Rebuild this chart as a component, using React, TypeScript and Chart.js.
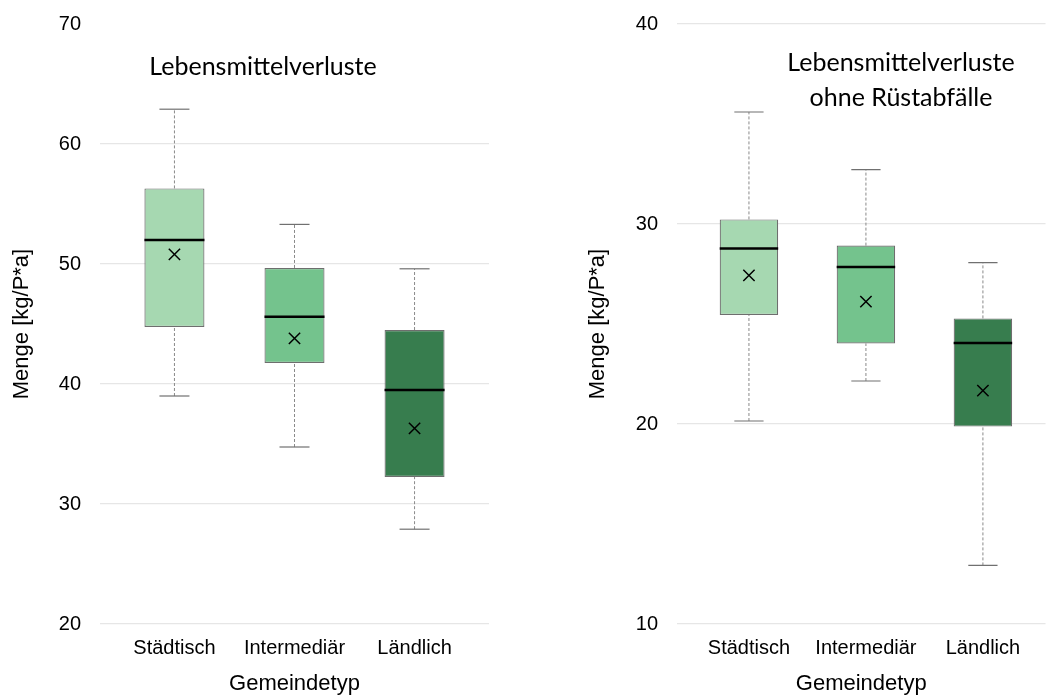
import React, { useEffect, useRef } from "react";
import { Chart, registerables } from "chart.js";
Chart.register(...registerables);

const categories = ["Städtisch", "Intermediär", "Ländlich"];
const boxColors = ["#a6d8b1", "#74c38d", "#377d4e"];

// Panel 1: Lebensmittelverluste
const p1Min = [39.0, 34.75, 27.9];
const p1Q1 = [44.75, 41.75, 32.25];
const p1Median = [52.0, 45.6, 39.5];
const p1Q3 = [56.3, 49.67, 44.5];
const p1Max = [62.9, 53.3, 49.6];
const p1Mean = [50.8, 43.8, 36.3];

// Panel 2: Lebensmittelverluste ohne Rüstabfälle
const p2Min = [20.15, 22.15, 12.93];
const p2Q1 = [25.45, 24.03, 19.87];
const p2Median = [28.78, 27.85, 24.05];
const p2Q3 = [30.23, 28.92, 25.28];
const p2Max = [35.6, 32.72, 28.07];
const p2Mean = [27.43, 26.12, 21.67];

const yTitle = "Menge [kg/P*a]";
const xTitle = "Gemeindetyp";
const p1Title = ["Lebensmittelverluste"];
const p2Title = ["Lebensmittelverluste", "ohne Rüstabfälle"];

const FONT = "'Liberation Sans', Arial, sans-serif";

type Panel = {
  min: number[]; q1: number[]; med: number[]; q3: number[]; max: number[]; mean: number[];
  yMin: number; yMax: number; hideTop: boolean;
  xMin: number; xMax: number;
  yAxisWidth: number; yTitlePad: number; padRight: number;
};

function buildConfig(p: Panel): any {
  const datasets: any[] = [];
  datasets.push({
    type: "bar",
    data: categories.map((_, i) => ({ x: i, y: [p.q1[i], p.q3[i]] })),
    backgroundColor: boxColors,
    borderColor: "#6e6e6e",
    borderWidth: 1.2,
    borderSkipped: false,
    barPercentage: 0.5,
    categoryPercentage: 1,
    order: 3,
  });
  categories.forEach((_, i) => {
    const whisker = {
      type: "line",
      borderColor: "#8a8a8a",
      borderWidth: 1,
      borderDash: [3, 2],
      pointRadius: 0,
      order: 5,
    };
    datasets.push({ ...whisker, data: [{ x: i, y: p.q3[i] }, { x: i, y: p.max[i] }] });
    datasets.push({ ...whisker, data: [{ x: i, y: p.min[i] }, { x: i, y: p.q1[i] }] });
    const cap = { type: "line", borderColor: "#707070", borderWidth: 1.2, pointRadius: 0, order: 4 };
    datasets.push({ ...cap, data: [{ x: i - 0.125, y: p.max[i] }, { x: i + 0.125, y: p.max[i] }] });
    datasets.push({ ...cap, data: [{ x: i - 0.125, y: p.min[i] }, { x: i + 0.125, y: p.min[i] }] });
    datasets.push({
      type: "line",
      borderColor: "#000000",
      borderWidth: 2.5,
      pointRadius: 0,
      order: 1,
      data: [{ x: i - 0.25, y: p.med[i] }, { x: i + 0.25, y: p.med[i] }],
    });
  });
  datasets.push({
    type: "scatter",
    data: p.mean.map((m, i) => ({ x: i, y: m })),
    pointStyle: "crossRot",
    pointRadius: 8,
    borderColor: "#000000",
    backgroundColor: "#000000",
    borderWidth: 1.5,
    order: 0,
  });

  return {
    type: "bar",
    data: { datasets },
    options: {
      animation: false,
      responsive: false,
      maintainAspectRatio: false,
      events: [],
      layout: { padding: { top: 24, right: p.padRight, left: 0, bottom: 0 } },
      plugins: { legend: { display: false }, tooltip: { enabled: false }, title: { display: false } },
      scales: {
        x: {
          type: "linear",
          min: p.xMin,
          max: p.xMax,
          offset: false,
          afterBuildTicks: (scale: any) => {
            scale.ticks = categories.map((_, i) => ({ value: i }));
          },
          afterFit: (scale: any) => {
            scale.height = 71;
            scale.paddingLeft = 0;
            scale.paddingRight = 0;
          },
          grid: { display: false, drawTicks: false, offset: false },
          border: { display: false },
          ticks: {
            autoSkip: false,
            maxRotation: 0,
            padding: 12,
            color: "#000000",
            font: { family: FONT, size: 20 },
            callback: (v: any) => categories[v as number],
          },
          title: {
            display: true,
            text: xTitle,
            color: "#000000",
            font: { family: FONT, size: 22, lineHeight: 1.0 },
            padding: { top: 0, bottom: 0 },
          },
        },
        y: {
          type: "linear",
          min: p.yMin,
          max: p.yMax,
          afterFit: (scale: any) => {
            scale.width = p.yAxisWidth;
            scale.paddingTop = 12;
            scale.paddingBottom = 12;
          },
          grid: {
            drawTicks: false,
            lineWidth: 1.2,
            color: (ctx: any) =>
              p.hideTop && ctx.tick && ctx.tick.value === p.yMax ? "rgba(0,0,0,0)" : "#e6e6e6",
          },
          border: { display: false },
          ticks: {
            stepSize: 10,
            padding: 19,
            color: "#000000",
            font: { family: FONT, size: 20 },
          },
          title: {
            display: true,
            text: yTitle,
            color: "#000000",
            font: { family: FONT, size: 22 },
            padding: { top: p.yTitlePad, bottom: 0 },
          },
        },
      },
    },
  };
}

function BoxChart({ panel, left, width, title, titleX, titleTop }: any) {
  const ref = useRef<HTMLCanvasElement>(null);
  useEffect(() => {
    if (!ref.current) return;
    const chart = new Chart(ref.current, buildConfig(panel));
    return () => chart.destroy();
  }, []);
  return (
    <>
      <canvas
        ref={ref}
        width={width}
        height={695}
        style={{ position: "absolute", left, top: 0, width, height: 695 }}
      />
      <div
        style={{
          position: "absolute",
          left: titleX,
          top: titleTop,
          transform: "translateX(-50%)",
          whiteSpace: "nowrap",
          textAlign: "center",
          fontFamily: "Lato, 'Open Sans', sans-serif",
          fontSize: 25,
          lineHeight: "35px",
          color: "#000",
        }}
      >
        {title.map((t: string, k: number) => (
          <div key={k}>{t}</div>
        ))}
      </div>
    </>
  );
}

export default function App() {
  const panel1: Panel = {
    min: p1Min, q1: p1Q1, med: p1Median, q3: p1Q3, max: p1Max, mean: p1Mean,
    yMin: 20, yMax: 70, hideTop: true,
    xMin: -0.62, xMax: 2.62,
    yAxisWidth: 100, yTitlePad: 9, padRight: 11,
  };
  const panel2: Panel = {
    min: p2Min, q1: p2Q1, med: p2Median, q3: p2Q3, max: p2Max, mean: p2Mean,
    yMin: 10, yMax: 40, hideTop: false,
    xMin: -0.615, xMax: 2.535,
    yAxisWidth: 117, yTitlePad: 25, padRight: 0,
  };
  return (
    <div style={{ position: "fixed", left: 0, top: 0, width: 1055, height: 695, background: "#fff", overflow: "hidden" }}>
      <BoxChart panel={panel1} left={0} width={500} title={p1Title} titleX={263} titleTop={48} />
      <BoxChart panel={panel2} left={560} width={495} title={p2Title} titleX={901} titleTop={44} />
    </div>
  );
}
